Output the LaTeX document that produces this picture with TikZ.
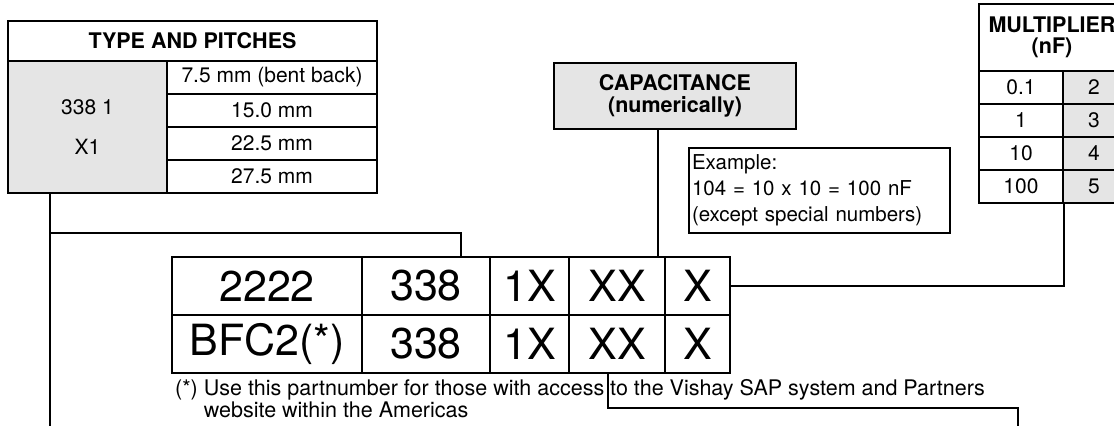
\documentclass[tikz,border=0pt]{standalone}
\usepackage{fontspec}
\setmainfont{TeX Gyre Heros}
\definecolor{cellgrey}{gray}{0.9}
\begin{document}
\begin{tikzpicture}[x=1pt,y=-1pt,
	cell/.style={draw,line width=1.8pt,inner sep=0pt,font=\fontsize{21}{25}\selectfont},
	head/.style={cell,align=center,font=\fontsize{21.5}{21.5}\selectfont\bfseries},
	big/.style={draw,line width=2.2pt,inner sep=0pt,minimum height=58pt,font=\fontsize{43}{48}\selectfont},
	link/.style={line width=2pt}]
	\useasboundingbox (0,0) rectangle (1114,426);
	\node[head,minimum width=369pt,minimum height=40pt] (typehead) at (192.5,41) {TYPE AND PITCHES};
	\node[cell,fill=cellgrey,align=center,minimum width=159pt,minimum height=132pt] (typecode) at (87.5,127) {338 1\\[15pt]X1};
	\node[cell,minimum width=210pt,minimum height=33pt] (pitcha) at (272,77.5) {7.5 mm (bent back)};
	\node[cell,minimum width=210pt,minimum height=33pt] (pitchb) at (272,110.5) {15.0 mm};
	\node[cell,minimum width=210pt,minimum height=33pt] (pitchc) at (272,143.5) {22.5 mm};
	\node[cell,minimum width=210pt,minimum height=33pt] (pitchd) at (272,176.5) {27.5 mm};
	
	\node[head,fill=cellgrey,minimum width=242pt,minimum height=66pt] (cap) at (675,96) {CAPACITANCE\\(numerically)};
	\node[draw,line width=1.6pt,inner sep=3pt,align=left,text width=255pt,minimum height=85pt,font=\fontsize{20.5}{26}\selectfont] (example) at (819.5,190.5) {Example:\\104 = 10 x 10 = 100 nF\\(except special numbers)};
	
	\node[head,minimum width=146pt,minimum height=67pt] (multhead) at (1052,37.5) {MULTIPLIER\\(nF)};
	\node[cell,minimum width=84pt,minimum height=33pt] (multa) at (1021,87.5) {0.1};
	\node[cell,minimum width=84pt,minimum height=33pt] (multb) at (1021,120.5) {1};
	\node[cell,minimum width=84pt,minimum height=33pt] (multc) at (1021,153.5) {10};
	\node[cell,minimum width=84pt,minimum height=33pt] (multd) at (1021,186.5) {100};
	\node[cell,fill=cellgrey,minimum width=62pt,minimum height=33pt] (digita) at (1094,87.5) {2};
	\node[cell,fill=cellgrey,minimum width=62pt,minimum height=33pt] (digitb) at (1094,120.5) {3};
	\node[cell,fill=cellgrey,minimum width=62pt,minimum height=33pt] (digitc) at (1094,153.5) {4};
	\node[cell,fill=cellgrey,minimum width=62pt,minimum height=33pt] (digitd) at (1094,186.5) {5};
	
	\node[big,line width=1.6pt,minimum width=190pt] (serA) at (267,286) {2222};
	\node[big,line width=1.6pt,minimum width=190pt] (serB) at (267,344) {BFC2(*)};
	\node[big,minimum width=128pt] (famA) at (426,286) {338};
	\node[big,minimum width=128pt] (famB) at (426,344) {338};
	\node[big,minimum width=79pt] (pitA) at (529.5,286) {1X};
	\node[big,minimum width=79pt] (pitB) at (529.5,344) {1X};
	\node[big,minimum width=96pt] (capA) at (617,286) {XX};
	\node[big,minimum width=96pt] (capB) at (617,344) {XX};
	\node[big,minimum width=65pt] (mulA) at (697.5,286) {X};
	\node[big,minimum width=65pt] (mulB) at (697.5,344) {X};
	\node[anchor=north west,inner sep=0pt,align=left,font=\fontsize{21.5}{22}\selectfont] (note) at (175,379) {(*) Use this partnumber for those with access to the Vishay SAP system and Partners\\\phantom{(*) }website within the Americas};
	
	\coordinate (typebend) at (50,233);
	\coordinate (typeend) at (50,426);
	\coordinate (famdrop) at (461,233);
	\coordinate (notebend) at (1018,408);
	\coordinate (noteend) at (1018,426);
	\draw[link] (typecode.south -| typeend) -- (typeend);
	\draw[link] (typebend) -- (famdrop) -- (famdrop |- famA.north);
	\draw[link] ([xshift=-17pt]cap.south) -- ([xshift=-17pt]cap.south |- capA.north);
	\draw[link] (mulA.east) -| (multd.south east);
	\draw[link] ([xshift=-9pt]capB.south) |- (notebend) -- (noteend);
\end{tikzpicture}
\end{document}
